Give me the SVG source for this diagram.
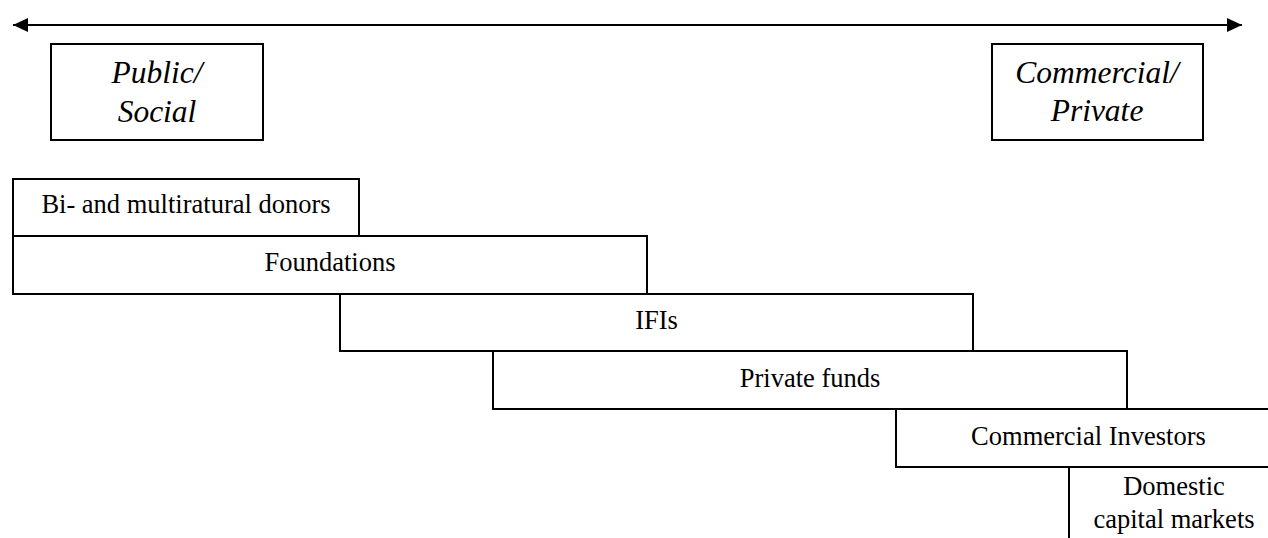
<svg xmlns="http://www.w3.org/2000/svg" width="1268" height="538" viewBox="0 0 1268 538">
<style>
.box{fill:#fff;stroke:#000;stroke-width:2}
.t{font-family:"Liberation Serif","Times New Roman",serif;font-size:26.5px;fill:#000;text-anchor:middle}
.i{font-family:"Liberation Serif","Times New Roman",serif;font-size:31.5px;font-style:italic;fill:#000;text-anchor:middle}
</style>
<defs>
<marker id="ah" viewBox="0 0 15 14" refX="15" refY="7" markerWidth="15" markerHeight="14" markerUnits="userSpaceOnUse" orient="auto-start-reverse">
<path d="M0,0 L15,7 L0,14 Z" fill="#000"/>
</marker>
</defs>
<rect width="1268" height="538" fill="#fff"/>
<g id="connectors">
<line x1="13" y1="25" x2="1242" y2="25" stroke="#000" stroke-width="2" marker-start="url(#ah)" marker-end="url(#ah)"/>
</g>
<g id="public">
<rect class="box" x="51" y="44" width="212" height="96"/>
<text class="i" x="157" y="83">Public/</text>
<text class="i" x="157" y="122">Social</text>
</g>
<g id="commercial">
<rect class="box" x="992" y="44" width="211" height="96"/>
<text class="i" x="1097" y="83">Commercial/</text>
<text class="i" x="1097" y="121">Private</text>
</g>
<g id="donors">
<rect class="box" x="13" y="179" width="346" height="57"/>
<text class="t" x="186" y="213">Bi- and multiratural donors</text>
</g>
<g id="foundations">
<rect class="box" x="13" y="236" width="634" height="58"/>
<text class="t" x="330" y="271">Foundations</text>
</g>
<g id="ifis">
<rect class="box" x="340" y="294" width="633" height="57"/>
<text class="t" x="656.5" y="329">IFIs</text>
</g>
<g id="privatefunds">
<rect class="box" x="493" y="351" width="634" height="58"/>
<text class="t" x="810" y="387">Private funds</text>
</g>
<g id="commercialinvestors">
<rect class="box" x="896" y="409" width="400" height="58"/>
<text class="t" x="1088.5" y="445">Commercial Investors</text>
</g>
<g id="domestic">
<rect class="box" x="1069" y="467" width="220" height="100"/>
<text class="t" x="1174" y="495">Domestic</text>
<text class="t" x="1174" y="528">capital markets</text>
</g>
</svg>
